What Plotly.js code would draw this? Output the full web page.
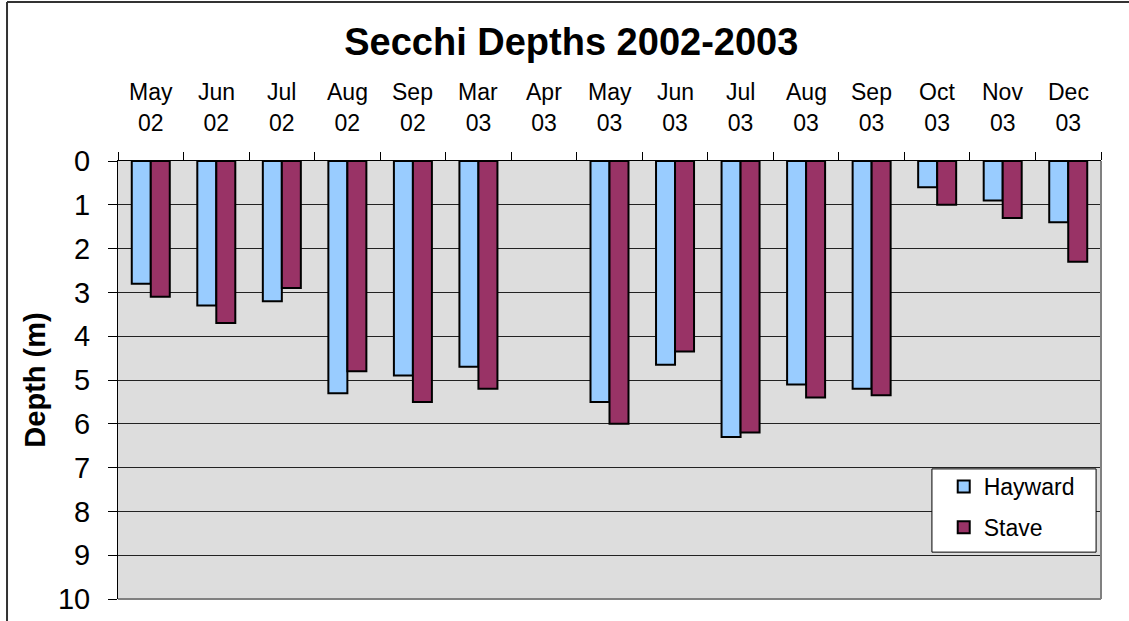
<!DOCTYPE html>
<html>
<head>
<meta charset="utf-8">
<script src="https://cdn.plot.ly/plotly-3.0.1.min.js"></script>
<style>
  html, body { margin: 0; padding: 0; background: #ffffff; }
  #chart { width: 1129px; height: 621px; }
</style>
</head>
<body>
<div id="chart"></div>
<script>
// Sampling months (top axis, two rows: month / year)
const months = ["May", "Jun", "Jul", "Aug", "Sep", "Mar", "Apr", "May", "Jun", "Jul", "Aug", "Sep", "Oct", "Nov", "Dec"];
const years  = ["02", "02", "02", "02", "02", "03", "03", "03", "03", "03", "03", "03", "03", "03", "03"];
const categories = ["May 02", "Jun 02", "Jul 02", "Aug 02", "Sep 02", "Mar 03", "Apr 03", "May 03",
                    "Jun 03", "Jul 03", "Aug 03", "Sep 03", "Oct 03", "Nov 03", "Dec 03"];

// Secchi depths (m); Apr 03 has no reading
const hayward = [2.8, 3.3, 3.2, 5.3, 4.9, 4.7, null, 5.5, 4.65, 6.3, 5.1, 5.2, 0.6, 0.9, 1.4];
const stave   = [3.1, 3.7, 2.9, 4.8, 5.5, 5.2, null, 6.0, 4.35, 6.2, 5.4, 5.35, 1.0, 1.3, 2.3];

const FONT = "Arial, 'Liberation Sans', sans-serif";

const traces = [
  {
    type: "bar", name: "Hayward", x: categories, y: hayward, legendgroup: "h",
    marker: { color: "#99CCFF", line: { color: "#000000", width: 2 } },
    hoverinfo: "x+y"
  },
  {
    type: "bar", name: "Stave", x: categories, y: stave, legendgroup: "s",
    marker: { color: "#993366", line: { color: "#000000", width: 2 } },
    hoverinfo: "x+y"
  }
];

// Month row drawn above the year tick labels
const monthLabels = categories.map((c, i) => ({
  x: c, xref: "x", y: 1.157, yref: "paper",
  text: months[i], showarrow: false, xanchor: "center", yanchor: "middle",
  font: { family: FONT, size: 23, color: "#000000" }
}));

// Chart frame, grey right/bottom plot edges and the legend box
const shapes = [
  { type: "line", xref: "paper", yref: "paper", x0: -0.1129, x1: -0.1129, y0: -0.2, y1: 1.363,
    line: { color: "#333333", width: 2 } },
  { type: "line", xref: "paper", yref: "paper", x0: -0.1129, x1: 1.2, y0: 1.363, y1: 1.363,
    line: { color: "#333333", width: 2 } },
  { type: "line", xref: "paper", yref: "paper", x0: 1, x1: 1, y0: 0, y1: 1,
    line: { color: "#808080", width: 2 } },
  { type: "line", xref: "paper", yref: "paper", x0: 0, x1: 1, y0: 0, y1: 0,
    line: { color: "#808080", width: 2 } },
  { type: "rect", xref: "paper", yref: "paper", x0: 0.828, x1: 0.995, y0: 0.107, y1: 0.297,
    fillcolor: "#ffffff", line: { color: "#000000", width: 1 }, layer: "above" }
];

const layout = {
  width: 1129, height: 621,
  margin: { l: 118, r: 28, t: 161, b: 22, pad: 0 },
  paper_bgcolor: "#ffffff",
  plot_bgcolor: "#DDDDDD",
  font: { family: FONT, color: "#000000" },
  title: {
    text: "<b>Secchi Depths 2002-2003</b>",
    font: { family: FONT, size: 38, color: "#000000" },
    x: 0.506, xref: "container", xanchor: "center",
    y: 1 - 42 / 621, yref: "container", yanchor: "middle"
  },
  barmode: "group",
  bargap: 0.42,
  bargroupgap: 0,
  showlegend: true,
  legend: {
    x: 0.840, y: 0.306, xanchor: "left", yanchor: "top",
    bgcolor: "rgba(0,0,0,0)", borderwidth: 0,
    font: { family: FONT, size: 23, color: "#000000" },
    itemwidth: 30, tracegroupgap: 8
  },
  xaxis: {
    type: "category",
    side: "top",
    tickmode: "array", tickvals: categories, ticktext: years,
    tickson: "boundaries",
    ticks: "outside", ticklen: 8, tickcolor: "#000000", tickwidth: 1,
    ticklabelstandoff: 20,
    tickfont: { family: FONT, size: 23, color: "#000000" },
    showline: true, linecolor: "#000000", linewidth: 1,
    showgrid: false, zeroline: false, fixedrange: true
  },
  yaxis: {
    range: [10, 0],
    dtick: 1, tick0: 0,
    ticks: "outside", ticklen: 9, tickcolor: "#000000", tickwidth: 1,
    ticklabelstandoff: 12,
    tickfont: { family: FONT, size: 29, color: "#000000" },
    showline: true, linecolor: "#000000", linewidth: 1,
    showgrid: true, gridcolor: "#222222", gridwidth: 1,
    zeroline: false, fixedrange: true,
    title: {
      text: "<b>Depth (m)</b>",
      font: { family: FONT, size: 29, color: "#000000" },
      standoff: 3
    }
  },
  annotations: monthLabels,
  shapes: shapes
};

Plotly.newPlot("chart", traces, layout, { displayModeBar: false, staticPlot: false });
</script>
</body>
</html>
